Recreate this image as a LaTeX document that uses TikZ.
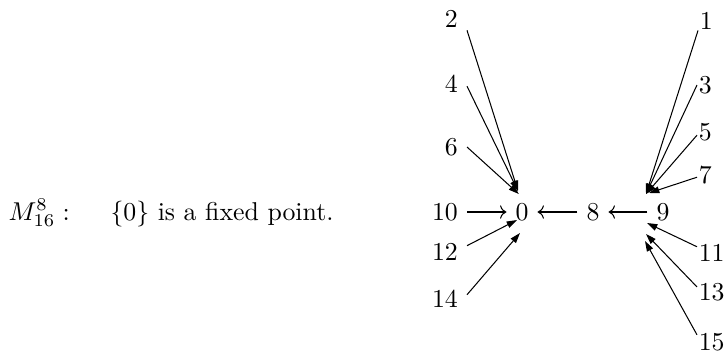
\documentclass[tikz,border=0pt]{standalone}
\usetikzlibrary{arrows.meta}
\tikzstyle{number} = [inner sep=0.3333em]
\tikzstyle{rightnumber} = [inner ysep=0.3333em, inner xsep=0.5pt, anchor=west]
\tikzstyle{arrow} = [line width=0.4pt, -{Triangle[length=4pt, width=2.6pt]}]
\tikzstyle{longarrow} = [line width=0.4pt, -{Computer Modern Rightarrow}]

\begin{document}
\begin{tikzpicture}[x=0.3877pt, y=-0.3877pt]
\useasboundingbox (0,0) rectangle (727,355);

% Keterangan
\node (name) [anchor=base west, inner sep=0] at (8,220) {$M^8_{16}:$};
\node (text) [anchor=base west, inner sep=0] at (110,220) {$\{0\}$ is a fixed point.};

% Baris tengah
\node (n0) [number] at (522,212) {0};
\node (n8) [number] at (593,212) {8};
\node (n9) [number] at (663,212) {9};

% Kolom kiri
\node (n2) [number, anchor=east] at (467,19) {2};
\node (n4) [number, anchor=east] at (467,84) {4};
\node (n6) [number, anchor=east] at (467,147) {6};
\node (n10) [number, anchor=east] at (467,212) {10};
\node (n12) [number, anchor=east] at (467,252) {12};
\node (n14) [number, anchor=east] at (467,299) {14};

% Kolom kanan
\node (n1) [rightnumber] at (698,21) {1};
\node (n3) [rightnumber] at (697,85) {3};
\node (n5) [rightnumber] at (697,132) {5};
\node (n7) [rightnumber] at (697,175) {7};
\node (n11) [rightnumber] at (697,253) {11};
\node (n13) [rightnumber] at (697,292) {13};
\node (n15) [rightnumber] at (697,342) {15};

% Titik ujung panah
\coordinate (top0) at (518,191);
\coordinate (sw0) at (517,220);
\coordinate (s0) at (520,233);
\coordinate (top9) at (646,194);
\coordinate (top9b) at (649,193);
\coordinate (w9a) at (647,223);
\coordinate (w9b) at (646,234);
\coordinate (w9c) at (645,241);

% Panah horizontal
\draw [longarrow] (n10) -- (n0);
\draw [longarrow] (n8) -- (n0);
\draw [longarrow] (n9) -- (n8);

% Panah ke 0
\draw [arrow] (n2.-36) -- (top0);
\draw [arrow] (n4.-8) -- (top0);
\draw [arrow] (n6.east) -- (n0.100);
\draw [arrow] (n12.16) -- (sw0);
\draw [arrow] (n14.11) -- (s0);

% Panah ke 9
\draw [arrow] (n1.229) -- (top9);
\draw [arrow] (n3.west) -- (top9);
\draw [arrow] (n5.201) -- (top9);
\draw [arrow] (n7.195) -- (top9b);
\draw [arrow] (n11.157) -- (w9a);
\draw [arrow] (n13.161) -- (w9b);
\draw [arrow] (n15.154) -- (w9c);

\end{tikzpicture}
\end{document}
